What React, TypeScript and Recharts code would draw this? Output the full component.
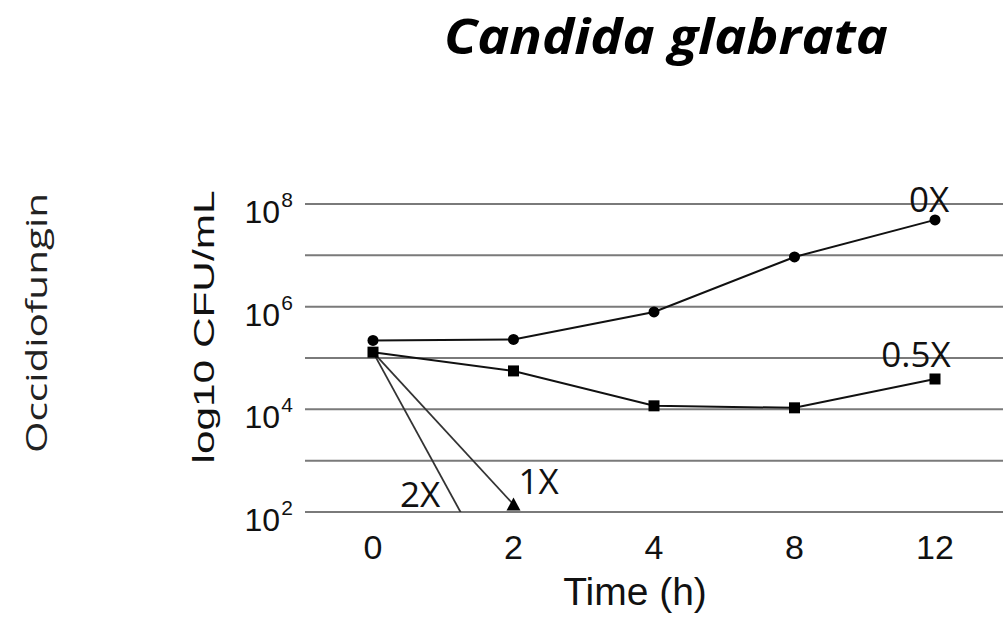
import { LineChart, Line, XAxis, YAxis, CartesianGrid, LabelList } from "recharts";

// sampling times (h)
const times = ["0", "2", "4", "8", "12"];

// log10 CFU/mL, per occidiofungin multiple of MIC
const cfu0X = [2.2e5, 2.3e5, 7.9e5, 9.3e6, 4.9e7];
const cfu05X = [1.3e5, 5.6e4, 1.17e4, 1.07e4, 3.9e4];
const cfu1X = [1.3e5, 1.4e2, null, null, null];
const cfu2X = [1.3e5, 1.3, null, null, null];

const yTicks = [1e2, 1e3, 1e4, 1e5, 1e6, 1e7, 1e8];
const labeledExponents = [2, 4, 6, 8];

const data = times.map((t, i) => ({
  time: t,
  x0: cfu0X[i],
  x05: cfu05X[i],
  x1: cfu1X[i],
  x2: cfu2X[i],
}));

const W = 1003;
const H = 620;
const SANS = "'Liberation Sans', Arial, sans-serif";
const LABEL_FONT = "'Open Sans', 'Noto Sans', sans-serif";

function LogTick(props: any) {
  const { x, y, payload } = props;
  const exp = Math.round(Math.log10(payload.value));
  if (!labeledExponents.includes(exp)) return <g />;
  return (
    <g>
      <text x={x - 13} y={y + 19} textAnchor="end" fontSize={32} fontFamily={SANS} fill="#111">
        10
      </text>
      <text x={x} y={y + 3} textAnchor="end" fontSize={21} fontFamily={SANS} fill="#111">
        {exp}
      </text>
    </g>
  );
}

function TimeTick(props: any) {
  const { x, y, payload } = props;
  return (
    <text x={x} y={y + 45} textAnchor="middle" fontSize={34} fontFamily={SANS} fill="#111">
      {payload.value}
    </text>
  );
}

const seriesLabel =
  (text: string, atIndex: number, dx: number, dy: number, anchor: string = "middle") =>
  (props: any) => {
    if (props.index !== atIndex) return <g />;
    const px = props.viewBox?.x ?? props.x;
    const py = props.viewBox?.y ?? props.y;
    return (
      <text
        x={px + dx}
        y={py + dy}
        textAnchor={anchor}
        fontSize={35}
        fontFamily={LABEL_FONT}
        fill="#111"
      >
        {text}
      </text>
    );
  };

const circleDot = (p: any) =>
  p.cy == null ? <g key={p.index} /> : <circle key={p.index} cx={p.cx} cy={p.cy} r={5.5} fill="#000" />;

const squareDot = (p: any) =>
  p.cy == null ? <g key={p.index} /> : <rect key={p.index} x={p.cx - 5.5} y={p.cy - 5.5} width={11} height={11} fill="#000" />;

const triangleDot = (p: any) =>
  p.cy == null || p.index !== 1 ? (
    <g key={p.index} />
  ) : (
    <path key={p.index} d={`M${p.cx},${p.cy - 7} L${p.cx + 7},${p.cy + 6} L${p.cx - 7},${p.cy + 6} Z`} fill="#000" />
  );

export default function App() {
  return (
    <div style={{ position: "relative", width: W, height: H, background: "#fff" }}>
      <style>{"body{margin:0}"}</style>
      <LineChart width={W} height={H} data={data} margin={{ top: 204, right: 0, left: 0, bottom: 0 }}>
        <CartesianGrid vertical={false} stroke="#7a7a7a" strokeWidth={2} />
        <XAxis
          dataKey="time"
          type="category"
          padding={{ left: 68, right: 68 }}
          axisLine={false}
          tickLine={false}
          tickSize={0}
          height={108}
          tick={<TimeTick />}
          interval={0}
        />
        <YAxis
          type="number"
          scale="log"
          domain={[1e2, 1e8]}
          ticks={yTicks}
          allowDataOverflow
          width={305}
          axisLine={false}
          tickLine={false}
          tickSize={0}
          tickMargin={12}
          tick={<LogTick />}
          interval={0}
        />
        <Line dataKey="x2" stroke="#333" strokeWidth={1.8} dot={false} isAnimationActive={false}>
          <LabelList dataKey="x2" content={seriesLabel("2X", 0, 47, 155)} />
        </Line>
        <Line dataKey="x1" stroke="#333" strokeWidth={1.8} dot={triangleDot} isAnimationActive={false}>
          <LabelList dataKey="x1" content={seriesLabel("1X", 1, 5, -10, "start")} />
        </Line>
        <Line dataKey="x05" stroke="#111" strokeWidth={2} dot={squareDot} isAnimationActive={false}>
          <LabelList dataKey="x05" content={seriesLabel("0.5X", 4, -19, -12)} />
        </Line>
        <Line dataKey="x0" stroke="#111" strokeWidth={2} dot={circleDot} isAnimationActive={false}>
          <LabelList dataKey="x0" content={seriesLabel("0X", 4, -6, -8)} />
        </Line>
      </LineChart>
      <svg
        width={W}
        height={H}
        style={{ position: "absolute", left: 0, top: 0, pointerEvents: "none" }}
      >
        <text
          x={666}
          y={54}
          textAnchor="middle"
          fontSize={48}
          fontWeight="bold"
          fontStyle="italic"
          fontFamily={LABEL_FONT}
          textLength={444}
          lengthAdjust="spacingAndGlyphs"
          fill="#000"
        >
          Candida glabrata
        </text>
        <text
          x={47}
          y={323}
          transform="rotate(-90 47 323)"
          textAnchor="middle"
          fontSize={29}
          fontFamily={LABEL_FONT}
          textLength={260}
          lengthAdjust="spacingAndGlyphs"
          fill="#222"
        >
          Occidiofungin
        </text>
        <text
          x={214}
          y={327}
          transform="rotate(-90 214 327)"
          textAnchor="middle"
          fontSize={30}
          fontFamily={SANS}
          textLength={273}
          lengthAdjust="spacingAndGlyphs"
          fill="#111"
        >
          log10 CFU/mL
        </text>
        <text x={635} y={605} textAnchor="middle" fontSize={39} fontFamily={SANS} fill="#111">
          Time (h)
        </text>
      </svg>
    </div>
  );
}
